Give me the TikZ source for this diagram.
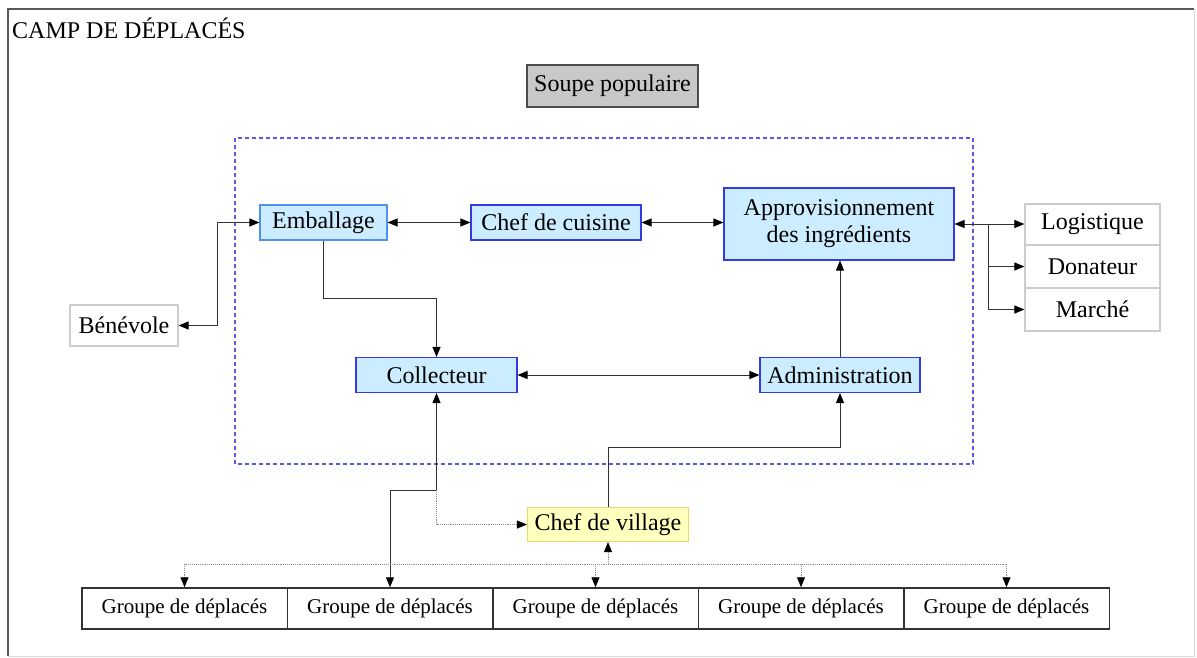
\documentclass[tikz,border=0pt]{standalone}
\usepackage{fontspec}
\setmainfont{Liberation Serif}
\usetikzlibrary{arrows.meta, calc}
\definecolor{boxblue}{RGB}{204,236,255}
\definecolor{edgeblue}{RGB}{50,60,225}
\definecolor{softblue}{RGB}{80,145,240}
\definecolor{villfill}{RGB}{255,255,190}
\definecolor{villedge}{RGB}{235,215,110}
\definecolor{soupfill}{RGB}{200,200,200}
\definecolor{dashblue}{RGB}{90,90,230}
\tikzset{
  unit/.style={draw=edgeblue, fill=boxblue, line width=1.1pt, inner sep=0pt,
      minimum height=35pt, font=\fontsize{24}{27}\selectfont},
  outside/.style={draw=black!20, fill=white, line width=1.2pt, inner sep=0pt,
      minimum width=135pt, font=\fontsize{24}{27}\selectfont},
  soup/.style={draw=black!70, fill=soupfill, line width=1.2pt, inner sep=0pt,
      minimum width=171pt, minimum height=42pt, font=\fontsize{24}{27}\selectfont},
  group/.style={draw=black!80, line width=1.5pt, inner sep=0pt,
      minimum width=205.5pt, minimum height=41pt, font=\fontsize{21}{24}\selectfont},
  link/.style={line width=1pt, draw=black!80, -{Triangle[length=10pt,width=8pt,black]}},
  twoway/.style={line width=1pt, draw=black!80,
      {Triangle[length=10pt,width=8pt,black]}-{Triangle[length=10pt,width=8pt,black]}},
  hint/.style={line width=0.9pt, draw=black!45, densely dotted,
      -{Triangle[length=10pt,width=8pt,black]}},
}

\begin{document}
\begin{tikzpicture}[x=1pt, y=-1pt]
  \useasboundingbox (0,0) rectangle (1197,657);
  % camp frame
  \draw[black!65, line width=1.5pt] (8,656) -- (8,9) -- (1194,9);
  \draw[black!15, line width=1pt] (1194,9) -- (1194,656) -- (8,656);
  \node[anchor=west, inner sep=0pt, font=\fontsize{24}{27}\selectfont] (title) at (12,28) {CAMP DE DÉPLACÉS};
  \node[soup] (soupe) at (612.5,86) {Soupe populaire};
  % kitchen zone
  \draw[dashblue, line width=1.2pt, dash pattern=on 4pt off 3pt] (235,138) rectangle (973,464);
  \node[unit, draw=softblue, minimum width=127pt] (emb) at (323.5,222.5) {Emballage};
  \node[unit, minimum width=170pt] (chef) at (556,222.5) {Chef de cuisine};
  \node[unit, minimum width=230pt, minimum height=72pt, align=center] (appro) at (839,224)
      {Approvisionnement\\des ingrédients};
  \node[unit, minimum width=161pt] (coll) at (436.5,375) {Collecteur};
  \node[unit, minimum width=160pt] (admin) at (840,375) {Administration};
  \node[unit, draw=villedge, fill=villfill, minimum width=161pt, minimum height=34pt]
      (village) at (608,524.5) {Chef de village};
  % outside partners
  \node[outside, minimum height=41pt] (logi) at (1092.5,224.5) {Logistique};
  \node[outside, minimum height=43pt] (donat) at (1092.5,266.5) {Donateur};
  \node[outside, minimum height=43pt] (marche) at (1092.5,309.5) {Marché};
  \node[outside, minimum width=108pt, minimum height=41pt] (bene) at (124,325.5) {Bénévole};
  % groups
  \foreach \i in {1,...,5}
    \node[group] (g\i) at ({184.5+205.5*(\i-1)},608.5) {Groupe de déplacés};
  % links inside
  \draw[twoway] (emb) -- (chef);
  \draw[twoway] (chef.east) -- (chef.east -| appro.west);
  \draw[twoway] (coll) -- (admin);
  \draw[link] (emb.south) -- ++(0,58) -| (coll.north);
  \draw[link] (admin.north) -- (admin.north |- appro.south);
  \draw[link] (village.north) -- ++(0,-59.5) -| (admin.south);
  % links outside
  \draw[twoway] (emb.west) -- ++(-42,0) |- (bene.east);
  \coordinate (fork) at (988,224);
  \draw[line width=1pt, draw=black!80, {Triangle[length=10pt,width=8pt,black]}-] (appro.east) -- (fork);
  \draw[link] (fork) -- (fork -| logi.west);
  \draw[link] (fork) |- (donat.west);
  \draw[link] (fork) |- (marche.west);
  \draw[twoway] (coll.south) -- ++(0,97) coordinate (split) -| (g2.north);
  \draw[hint] (split) |- (village.west);
  % village bus
  \coordinate (bus) at (0,564);
  \draw[line width=0.9pt, draw=black!45, densely dotted] (g1.north |- bus) -- (g5.north |- bus);
  \foreach \g in {g1,g3,g4,g5}
    \draw[hint] (\g.north |- bus) -- (\g.north);
  \draw[hint] (village.south |- bus) -- (village.south);
\end{tikzpicture}
\end{document}
